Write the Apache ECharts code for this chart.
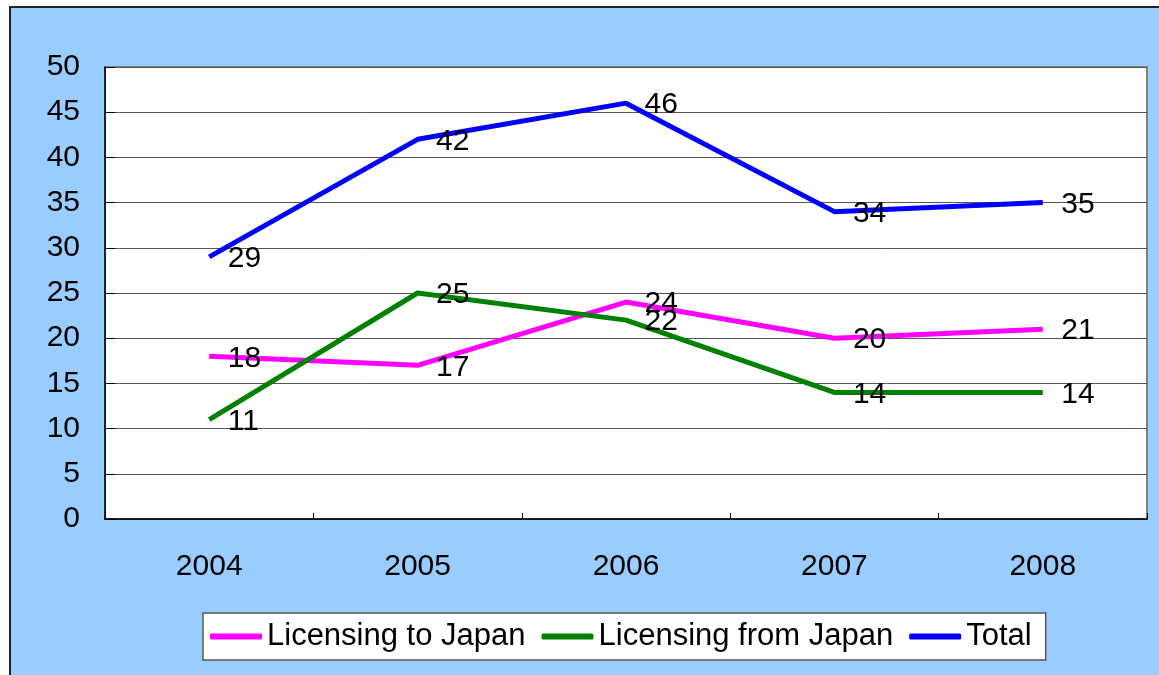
<!DOCTYPE html>
<html>
<head>
<meta charset="utf-8">
<script src="https://cdn.jsdelivr.net/npm/echarts@6/dist/echarts.min.js"></script>
<style>
  html, body { margin: 0; padding: 0; background: #ffffff; }
  #chart { width: 1159px; height: 675px; }
</style>
</head>
<body>
<div id="chart"></div>
<script>
// data
const years = ['2004', '2005', '2006', '2007', '2008'];
const toJapan = [18, 17, 24, 20, 21];
const fromJapan = [11, 25, 22, 14, 14];
const total = [29, 42, 46, 34, 35];
const seriesNames = ['Licensing to Japan', 'Licensing from Japan', 'Total'];
const seriesColors = ['#ff00ff', '#008000', '#0000ff'];

const font = "'Liberation Sans', Arial, sans-serif";

const chart = echarts.init(document.getElementById('chart'));

const makeSeries = (name, data, color) => ({
    name: name,
    type: 'line',
    data: data,
    color: color,
    // transparent symbol so the value labels still render
    symbol: 'circle',
    symbolSize: 1,
    showSymbol: true,
    lineStyle: { color: color, width: 5 },
    itemStyle: { color: 'transparent', borderWidth: 0 },
    label: {
        show: true,
        position: 'right',
        distance: 18,
        offset: [0, 2],
        color: '#000',
        fontSize: 30,
        fontFamily: font
    },
    z: 3
});

chart.setOption({
    animation: false,
    backgroundColor: '#ffffff',
    graphic: [{
        // outer blue frame
        type: 'rect',
        z: -10,
        silent: true,
        shape: { x: 10, y: 7, width: 1200, height: 720 },
        style: { fill: '#99ccff', stroke: '#222', lineWidth: 2 }
    }],
    grid: {
        left: 105,
        right: 12,
        top: 67,
        bottom: 156,
        show: true,
        backgroundColor: '#ffffff',
        borderColor: '#808080',
        borderWidth: 2
    },
    legend: {
        data: seriesNames.map((n, i) => ({ name: n, itemStyle: { color: seriesColors[i] } })),
        left: 203,
        top: 613,
        padding: [8, 14, 8, 7],
        itemGap: 16,
        itemWidth: 52,
        itemHeight: 6,
        icon: 'roundRect',
        backgroundColor: '#ffffff',
        borderColor: '#555',
        borderWidth: 1.5,
        borderRadius: 0,
        textStyle: { fontSize: 31, color: '#000', fontFamily: font }
    },
    xAxis: {
        type: 'category',
        data: years,
        boundaryGap: true,
        axisLine: { lineStyle: { color: '#000', width: 1.5 } },
        axisTick: { show: true, inside: true, length: 6, lineStyle: { color: '#000' } },
        axisLabel: { fontSize: 30, color: '#000', fontFamily: font, margin: 33 },
        splitLine: { show: false }
    },
    yAxis: {
        type: 'value',
        min: 0,
        max: 50,
        interval: 5,
        axisLine: { show: true, lineStyle: { color: '#000', width: 1.5 } },
        axisTick: { show: true, inside: true, length: 10, lineStyle: { color: '#000' } },
        axisLabel: { fontSize: 30, color: '#000', fontFamily: font, margin: 25 },
        splitLine: { show: true, lineStyle: { color: '#555', width: 1 } }
    },
    series: [
        makeSeries(seriesNames[0], toJapan, seriesColors[0]),
        makeSeries(seriesNames[1], fromJapan, seriesColors[1]),
        makeSeries(seriesNames[2], total, seriesColors[2])
    ]
});
</script>
</body>
</html>
